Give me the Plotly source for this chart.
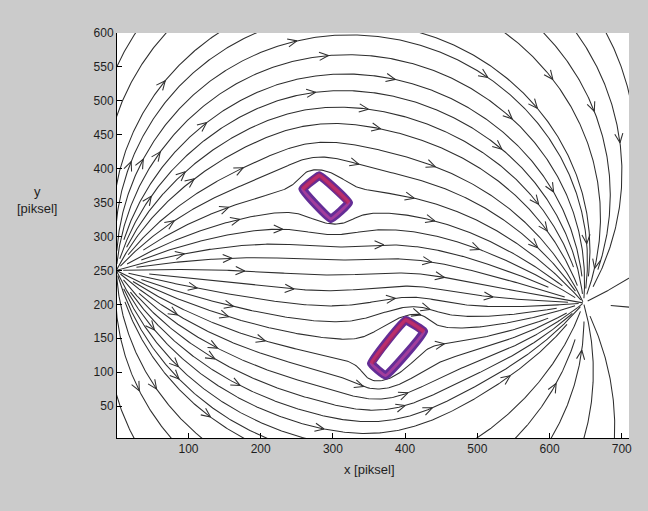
import numpy as np
import plotly.graph_objects as go

# ---------------- data ----------------
SOURCE = [0.0, 250.0]          # start point (streamlines leave here)
SINK = [647.0, 202.0]          # goal point (streamlines end here)
SOURCE_STRENGTH = 1.0
SINK_STRENGTH = 1.0

# obstacle outlines (corner points of the purple rings, centre line)
OBST1_X = [281, 258, 297, 322]
OBST1_Y = [390, 370, 326, 350]
OBST2_X = [401, 426, 373, 353]
OBST2_Y = [177, 160, 95, 113]
# outer edge of the rings (region the flow goes round)
OBST1_OUT_X = [281, 251, 297, 329]
OBST1_OUT_Y = [397, 371, 319, 349]
OBST2_OUT_X = [401, 433, 371, 347]
OBST2_OUT_Y = [184, 162, 88, 113]

# streamline seed points
SEED_COLUMN_X = 158
SEED_COLUMN_Y = [581, 549, 520, 492, 468, 444, 420, 392, 368, 344, 322, 303,
                 285, 268, 250, 232, 215, 198, 181, 163, 145, 126, 107, 88,
                 69, 49, 30, 14]
SEED_TOP_X = [26, 68, 140, 426, 540, 593, 638, 679]
SEED_BOTTOM_X = [24, 75, 117, 501, 554, 603, 648, 690]
SEED_RIGHT_Y = [238, 196]

X_TICKS = [100, 200, 300, 400, 500, 600, 700]
Y_TICKS = [50, 100, 150, 200, 250, 300, 350, 400, 450, 500, 550, 600]
X_RANGE = [1, 710]
Y_RANGE = [3, 600]

# ---------------- layout geometry ----------------
W, H = 648, 511
ML, MR, MT, MB = 117, 19, 33, 73
PW, PH = W - ML - MR, H - MT - MB
SX = PW / (X_RANGE[1] - X_RANGE[0])   # px per x unit
SY = PH / (Y_RANGE[1] - Y_RANGE[0])   # px per y unit

S = np.array(SOURCE)
T = np.array(SINK)
obst_out = [np.column_stack([OBST1_OUT_X, OBST1_OUT_Y]).astype(float),
            np.column_stack([OBST2_OUT_X, OBST2_OUT_Y]).astype(float)]


def base_velocity(P):
    d = P - S
    v = SOURCE_STRENGTH * d / ((d ** 2).sum(1) + 1e-9)[:, None]
    e = T - P
    v = v + SINK_STRENGTH * e / ((e ** 2).sum(1) + 1e-9)[:, None]
    return v


# each obstacle: flow round an ellipse fitted to its outline
ellipses = []
for poly in obst_out:
    c = poly.mean(0)
    e1 = poly[1] - poly[0]
    e2 = poly[2] - poly[1]
    if np.hypot(*e1) > np.hypot(*e2):
        long_e, short_e = e1, e2
    else:
        long_e, short_e = e2, e1
    th = np.arctan2(long_e[1], long_e[0])
    a = 0.5 * np.hypot(*long_e) * 1.14
    b = 0.5 * np.hypot(*short_e) * 1.22
    U = base_velocity(c[None, :])[0]
    ellipses.append((complex(*c), th, a, b, complex(*U)))


def velocity(P):
    v = base_velocity(P)
    z = P[:, 0] + 1j * P[:, 1]
    for z0, th, a, b, U in ellipses:
        rot = np.exp(-1j * th)
        zl = (z - z0) * rot
        Ul = U * rot
        Um, al = abs(Ul), np.angle(Ul)
        c2 = (a * a - b * b) / 4.0
        R = (a + b) / 2.0
        sq = np.sqrt(zl * zl - 4 * c2 + 0j)
        z1 = (zl + sq) / 2
        z2 = (zl - sq) / 2
        zeta = np.where(np.abs(z1) >= np.abs(z2), z1, z2)
        zeta = np.where(np.abs(zeta) < 1e-6, 1e-6, zeta)
        dW = Um * (np.exp(-1j * al) - R * R * np.exp(1j * al) / zeta ** 2) / (1 - c2 / zeta ** 2)
        pert = np.conj(dW - Um * np.exp(-1j * al)) * np.exp(1j * th)
        v = v + np.column_stack([pert.real, pert.imag])
    return v


def inside_poly(P, poly):
    x, y = P[:, 0], P[:, 1]
    ins = np.zeros(len(P), bool)
    n = len(poly)
    for i in range(n):
        x1, y1 = poly[i]
        x2, y2 = poly[(i + 1) % n]
        cond = (y1 > y) != (y2 > y)
        xi = (x2 - x1) * (y - y1) / (y2 - y1 + 1e-12) + x1
        ins ^= cond & (x < xi)
    return ins


def unit(v):
    vp = v * np.array([SX, SY])
    n = np.hypot(vp[:, 0], vp[:, 1])[:, None] + 1e-15
    return vp / n / np.array([SX, SY])


def integrate(seeds, sign, stop_r_src, stop_r_snk, ds=1.6, nmax=1400):
    P = seeds.copy()
    N = len(P)
    active = np.ones(N, bool)
    paths = [[p.copy()] for p in P]
    for _ in range(nmax):
        if not active.any():
            break
        idx = np.where(active)[0]
        Pa = P[idx]
        u1 = sign * unit(velocity(Pa))
        Pm = Pa + 0.5 * ds * u1
        u2 = sign * unit(velocity(Pm))
        Pn = Pa + ds * u2
        turn = (u1 * u2 * np.array([SX, SY]) ** 2).sum(1)
        out = ((Pn[:, 0] < X_RANGE[0] - 2) | (Pn[:, 0] > X_RANGE[1] + 2) |
               (Pn[:, 1] < Y_RANGE[0] - 2) | (Pn[:, 1] > Y_RANGE[1] + 2))
        dS = np.hypot(*(Pn - S).T)
        dT = np.hypot(*(Pn - T).T)
        ins = np.zeros(len(idx), bool)
        for poly in obst_out:
            ins |= inside_poly(Pn, poly)
        stop = out | (turn < 0.3) | ins
        if sign < 0:
            stop |= dS < stop_r_src[idx]
        else:
            stop |= dT < stop_r_snk[idx]
        for k, i in enumerate(idx):
            if not (turn[k] < 0.3 or ins[k]):
                paths[i].append(Pn[k].copy())
        P[idx] = Pn
        active[idx[stop]] = False
    return paths


seeds = ([[SEED_COLUMN_X, y] for y in SEED_COLUMN_Y] +
         [[x, Y_RANGE[1] - 1] for x in SEED_TOP_X] +
         [[x, Y_RANGE[0] + 1] for x in SEED_BOTTOM_X] +
         [[X_RANGE[1] - 1, y] for y in SEED_RIGHT_Y])
seeds = np.array(seeds, float)
n = len(seeds)
src_cycle = np.array([2, 30, 10, 48, 18, 38])
snk_cycle = np.array([3, 22, 8, 40, 14, 55, 28])
stop_src = src_cycle[np.arange(n) % len(src_cycle)].astype(float)
stop_snk = snk_cycle[np.arange(n) % len(snk_cycle)].astype(float)

fwd = integrate(seeds, +1, stop_src, stop_snk)
bwd = integrate(seeds, -1, stop_src, stop_snk)

lx, ly, ax_, ay_ = [], [], [], []
ARROW_LEN = 10.0
ARROW_ANG = np.deg2rad(24)
for i in range(n):
    path = np.array(bwd[i][::-1] + fwd[i][1:])
    if len(path) < 3:
        continue
    lx += list(path[:, 0]) + [None]
    ly += list(path[:, 1]) + [None]
    pp = path * np.array([SX, SY])
    seg = np.hypot(*np.diff(pp, axis=0).T)
    cum = np.concatenate([[0], np.cumsum(seg)])
    total = cum[-1]
    s0 = 70 + (i % 4) * 25
    spots = np.arange(s0, total - 25, 200)
    for s in spots:
        j = int(np.searchsorted(cum, s))
        j = min(max(j, 1), len(pp) - 2)
        d = pp[j + 1] - pp[j - 1]
        d = d / (np.hypot(*d) + 1e-12)
        tip = pp[j]
        for sgn in (1, -1):
            c, si = np.cos(sgn * ARROW_ANG), np.sin(sgn * ARROW_ANG)
            back = -np.array([c * d[0] - si * d[1], si * d[0] + c * d[1]]) * ARROW_LEN
            q = tip + back
            ax_ += [q[0] / SX, tip[0] / SX, None]
            ay_ += [q[1] / SY, tip[1] / SY, None]

fig = go.Figure()
fig.add_trace(go.Scatter(x=lx, y=ly, mode="lines",
                         line=dict(color="#2e2e2e", width=1.05),
                         hoverinfo="skip", showlegend=False))
fig.add_trace(go.Scatter(x=ax_, y=ay_, mode="lines",
                         line=dict(color="#2e2e2e", width=1.05),
                         hoverinfo="skip", showlegend=False))

for ox, oy in ((OBST1_X, OBST1_Y), (OBST2_X, OBST2_Y)):
    cx = list(ox) + [ox[0], ox[1]]
    cy = list(oy) + [oy[0], oy[1]]
    fig.add_trace(go.Scatter(x=cx, y=cy, mode="lines",
                             line=dict(color="#642d96", width=8.5, shape="spline", smoothing=0.25),
                             hoverinfo="skip", showlegend=False))
    fig.add_trace(go.Scatter(x=cx, y=cy, mode="lines",
                             line=dict(color="#a23d9c", width=3, shape="spline", smoothing=0.25),
                             hoverinfo="skip", showlegend=False))
    fig.add_trace(go.Scatter(x=[ox[1], ox[0], ox[3]], y=[oy[1], oy[0], oy[3]],
                             mode="lines", opacity=0.5,
                             line=dict(color="#d4203c", width=5, shape="spline", smoothing=0.25),
                             hoverinfo="skip", showlegend=False))

axis_font = dict(family="Liberation Sans, Arial, sans-serif", size=12, color="#1e1e1e")
fig.update_xaxes(range=X_RANGE, tickvals=X_TICKS, ticks="inside", ticklen=5,
                 tickcolor="#000", showline=True, linecolor="#000", linewidth=1,
                 mirror=False, showgrid=False, zeroline=False, tickfont=axis_font)
fig.update_yaxes(range=Y_RANGE, tickvals=Y_TICKS, ticks="inside", ticklen=5,
                 tickcolor="#000", showline=True, linecolor="#000", linewidth=1,
                 mirror=False, showgrid=False, zeroline=False, tickfont=axis_font)
fig.update_layout(
    width=W, height=H,
    margin=dict(l=ML, r=MR, t=MT, b=MB),
    paper_bgcolor="#cbcbcb", plot_bgcolor="#ffffff",
    annotations=[
        dict(text="x [piksel]", xref="paper", yref="paper", x=0.494, y=-0.079,
             xanchor="center", yanchor="middle", showarrow=False,
             font=dict(family="Liberation Sans, Arial, sans-serif", size=13, color="#1e1e1e")),
        dict(text="y<br>[piksel]", xref="paper", yref="paper", x=-0.156, y=0.588,
             xanchor="center", yanchor="middle", showarrow=False, align="center",
             font=dict(family="Liberation Sans, Arial, sans-serif", size=13, color="#1e1e1e")),
    ],
)
fig.write_html("out.html")
